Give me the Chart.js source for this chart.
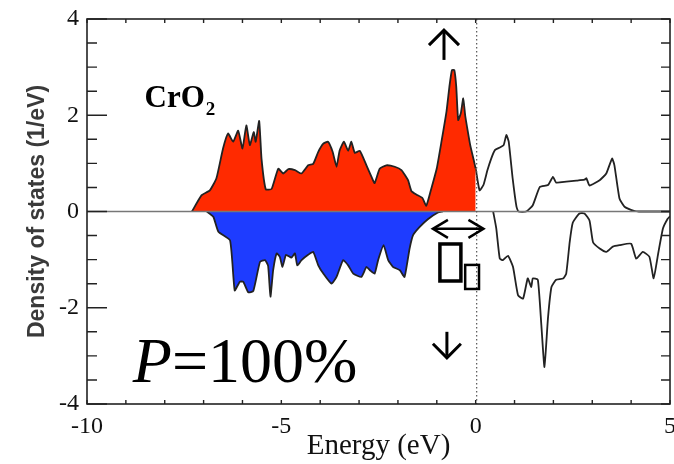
<!DOCTYPE html>
<html>
<head>
<meta charset="utf-8">
<script src="https://cdn.jsdelivr.net/npm/chart.js@4.4.1/dist/chart.umd.min.js"></script>
<style>
  html, body { margin: 0; padding: 0; background: #fff; }
  canvas { display: block; }
</style>
</head>
<body>
<canvas id="dosChart" width="674" height="464"></canvas>
<script>
// spin up, occupied part (red, up to Fermi level)
const upEnergy = [-7.3, -7.05, -6.84, -6.67, -6.5, -6.37, -6.24, -6.11, -6.0, -5.9, -5.81, -5.71, -5.66, -5.57, -5.51, -5.4, -5.25, -5.08, -4.95, -4.82, -4.65, -4.48, -4.31, -4.18, -4.05, -3.92, -3.8, -3.68, -3.58, -3.5, -3.39, -3.28, -3.2, -3.11, -2.98, -2.81, -2.68, -2.6, -2.47, -2.3, -2.08, -1.91, -1.74, -1.65, -1.52, -1.37, -1.27, -1.14, -1.0, -0.88, -0.75, -0.67, -0.61, -0.55, -0.5, -0.45, -0.38, -0.32, -0.27, -0.22, -0.14, -0.05, 0];
const upDos = [0, 0.34, 0.44, 0.69, 1.31, 1.62, 1.45, 1.68, 1.31, 1.79, 1.38, 1.65, 1.45, 1.88, 1.10, 0.46, 0.47, 0.89, 0.79, 0.88, 0.86, 0.79, 0.96, 0.99, 1.24, 1.41, 1.45, 1.24, 0.93, 1.27, 1.45, 1.26, 1.45, 1.22, 1.26, 0.96, 0.72, 0.59, 0.89, 0.96, 0.93, 0.86, 0.65, 0.42, 0.35, 0.28, 0.12, 0.48, 0.9, 1.45, 2.08, 2.63, 2.94, 2.94, 2.6, 1.9, 2.05, 2.35, 2.0, 1.75, 1.38, 1.07, 0.89];

// spin up, empty part (black line above Fermi level)
const upEmptyEnergy = [0, 0.1, 0.2, 0.3, 0.4, 0.5, 0.62, 0.72, 0.79, 0.85, 0.95, 1.05, 1.1, 1.3, 1.47, 1.65, 1.86, 1.99, 2.07, 2.33, 2.59, 2.8, 2.85, 2.93, 3.19, 3.36, 3.51, 3.57, 3.7, 3.83, 4.09, 4.2, 5];
const upEmptyDos = [0.89, 0.44, 0.55, 0.85, 1.1, 1.28, 1.33, 1.38, 1.59, 1.45, 0.7, 0.1, 0, 0, 0.13, 0.51, 0.55, 0.72, 0.6, 0.62, 0.64, 0.66, 0.69, 0.54, 0.65, 0.79, 1.1, 0.96, 0.27, 0.1, 0.01, 0, 0];

// spin down, occupied part (blue)
const downEnergy = [-6.92, -6.75, -6.62, -6.32, -6.2, -6.07, -5.98, -5.85, -5.72, -5.55, -5.42, -5.34, -5.28, -5.21, -5.12, -5.04, -4.97, -4.88, -4.74, -4.65, -4.59, -4.48, -4.31, -4.18, -4.05, -3.92, -3.71, -3.58, -3.41, -3.28, -3.15, -2.94, -2.81, -2.72, -2.6, -2.51, -2.37, -2.25, -2.13, -1.95, -1.83, -1.7, -1.61, -1.44, -1.23, -0.97, -0.85];
const downDos = [0, -0.11, -0.42, -0.6, -1.64, -1.46, -1.46, -1.68, -1.65, -1.05, -1.01, -1.13, -1.77, -1.22, -0.87, -0.94, -1.15, -0.9, -0.96, -0.87, -1.12, -1.01, -0.9, -0.84, -1.12, -1.29, -1.5, -1.36, -1.01, -1.12, -1.29, -1.36, -1.15, -1.22, -1.29, -1.01, -0.7, -1.01, -1.15, -1.22, -1.36, -0.77, -0.49, -0.32, -0.16, -0.02, 0];

// spin down, empty part (black line)
const downEmptyEnergy = [0.45, 0.53, 0.62, 0.7, 0.83, 0.96, 1.09, 1.22, 1.34, 1.43, 1.47, 1.6, 1.69, 1.77, 1.86, 1.95, 2.07, 2.25, 2.33, 2.42, 2.5, 2.67, 2.8, 2.93, 3.02, 3.19, 3.36, 3.53, 3.7, 4.0, 4.13, 4.3, 4.47, 4.58, 4.69, 4.82, 4.94, 5];
const downEmptyDos = [0, -0.35, -0.98, -1.01, -0.92, -1.15, -1.74, -1.81, -1.39, -1.57, -1.39, -1.42, -2.36, -3.23, -2.22, -1.57, -1.42, -1.39, -1.29, -0.63, -0.23, -0.04, -0.04, -0.19, -0.64, -0.77, -0.84, -0.73, -0.7, -0.67, -0.98, -0.84, -0.94, -1.39, -0.9, -0.35, -0.15, -0.1];

// tick labels
const xTicks = [-10, -5, 0, 5];
const yTicks = [-4, -2, 0, 2, 4];

const SERIF = "'Liberation Serif', 'Times New Roman', serif";

function toPoints(xs, ys) {
	return xs.map(function(x, i) { return { x: x, y: ys[i] }; });
}

// arrow with an open (chevron) head, from (x1,y1) to (x2,y2)
function arrowHead(ctx, x1, y1, x2, y2, len, half) {
	const ang = Math.atan2(y2 - y1, x2 - x1);
	const c = Math.cos(ang), s = Math.sin(ang);
	ctx.beginPath();
	ctx.moveTo(x2 - len * c + half * s, y2 - len * s - half * c);
	ctx.lineTo(x2, y2);
	ctx.lineTo(x2 - len * c - half * s, y2 - len * s + half * c);
	ctx.stroke();
}

// frame, inward ticks, Fermi line and the annotations
const framePlugin = {
	id: 'framePlugin',
	afterDatasetsDraw: function(chart) {
		const ctx = chart.ctx;
		const xs = chart.scales.x;
		const ys = chart.scales.y;
		const a = chart.chartArea;
		ctx.save();

		// zero line
		ctx.strokeStyle = '#777';
		ctx.lineWidth = 1.5;
		ctx.beginPath();
		ctx.moveTo(a.left, ys.getPixelForValue(0));
		ctx.lineTo(a.right, ys.getPixelForValue(0));
		ctx.stroke();

		// Fermi level (dotted)
		ctx.strokeStyle = '#555';
		ctx.lineWidth = 1.2;
		ctx.setLineDash([1.5, 2.5]);
		ctx.beginPath();
		ctx.moveTo(xs.getPixelForValue(0) + 1, a.top);
		ctx.lineTo(xs.getPixelForValue(0) + 1, a.bottom);
		ctx.stroke();
		ctx.setLineDash([]);

		// frame
		ctx.strokeStyle = '#222';
		ctx.lineWidth = 1.6;
		ctx.strokeRect(a.left, a.top, a.right - a.left, a.bottom - a.top);

		// y ticks (left long/short, right short)
		ctx.lineWidth = 1.4;
		for (let v = -4; v <= 4.001; v += 0.5) {
			const py = ys.getPixelForValue(v);
			const len = (Math.abs(v % 2) < 0.01) ? 20 : 10;
			ctx.beginPath();
			ctx.moveTo(a.left, py);
			ctx.lineTo(a.left + len, py);
			ctx.moveTo(a.right, py);
			ctx.lineTo(a.right - 9, py);
			ctx.stroke();
		}
		// x ticks (bottom and top)
		for (let v = -10; v <= 5; v += 1) {
			const px = xs.getPixelForValue(v);
			ctx.beginPath();
			ctx.moveTo(px, a.bottom);
			ctx.lineTo(px, a.bottom - 4);
			ctx.moveTo(px, a.top);
			ctx.lineTo(px, a.top + 4);
			ctx.stroke();
		}

		// CrO2 label
		ctx.fillStyle = '#000';
		ctx.textBaseline = 'alphabetic';
		ctx.textAlign = 'left';
		ctx.font = 'bold 31px ' + SERIF;
		const cx = xs.getPixelForValue(-8.52);
		const cy = ys.getPixelForValue(2.17);
		ctx.fillText('CrO', cx, cy);
		const w = ctx.measureText('CrO').width;
		ctx.font = 'bold 19px ' + SERIF;
		ctx.fillText('2', cx + w + 1, cy + 8);

		// P=100%
		const px0 = xs.getPixelForValue(-8.82);
		const py0 = ys.getPixelForValue(-3.54);
		ctx.font = 'italic 64px ' + SERIF;
		ctx.fillText('P', px0, py0);
		const pw = ctx.measureText('P').width;
		ctx.font = '64px ' + SERIF;
		ctx.fillText('=100%', px0 + pw, py0);

		// spin arrows
		ctx.strokeStyle = '#000';
		ctx.lineCap = 'butt';
		ctx.lineJoin = 'miter';
		ctx.lineWidth = 3;
		let ax = xs.getPixelForValue(-0.815);
		let ay1 = ys.getPixelForValue(3.15), ay2 = ys.getPixelForValue(3.77);
		ctx.beginPath(); ctx.moveTo(ax, ay1); ctx.lineTo(ax, ay2 + 2); ctx.stroke();
		arrowHead(ctx, ax, ay1, ax, ay2, 15, 15);

		ax = xs.getPixelForValue(-0.74);
		ay1 = ys.getPixelForValue(-2.50); ay2 = ys.getPixelForValue(-3.04);
		ctx.beginPath(); ctx.moveTo(ax, ay1); ctx.lineTo(ax, ay2 - 2); ctx.stroke();
		arrowHead(ctx, ax, ay1, ax, ay2, 14, 14);

		ctx.lineWidth = 2.5;
		const dx1 = xs.getPixelForValue(-1.1), dx2 = xs.getPixelForValue(0.2);
		const dy = ys.getPixelForValue(-0.36);
		ctx.beginPath(); ctx.moveTo(dx1 + 2, dy); ctx.lineTo(dx2 - 2, dy); ctx.stroke();
		arrowHead(ctx, dx2, dy, dx1, dy, 15, 9);
		arrowHead(ctx, dx1, dy, dx2, dy, 15, 9);

		// the two boxes (missing glyphs in the original)
		ctx.lineWidth = 3.5;
		let bx1 = xs.getPixelForValue(-0.92), bx2 = xs.getPixelForValue(-0.38);
		let by1 = ys.getPixelForValue(-0.675), by2 = ys.getPixelForValue(-1.444);
		ctx.strokeRect(bx1, by1, bx2 - bx1, by2 - by1);
		ctx.lineWidth = 2.5;
		bx1 = xs.getPixelForValue(-0.27); bx2 = xs.getPixelForValue(0.086);
		by1 = ys.getPixelForValue(-1.11); by2 = ys.getPixelForValue(-1.61);
		ctx.strokeRect(bx1, by1, bx2 - bx1, by2 - by1);

		ctx.restore();
	}
};

const lineStyle = {
	borderColor: '#222',
	borderWidth: 1.8,
	pointRadius: 0,
	tension: 0.15
};

new Chart(document.getElementById('dosChart'), {
	type: 'line',
	data: {
		datasets: [
			Object.assign({ data: toPoints(upEnergy, upDos), fill: 'origin', backgroundColor: '#ff2a00' }, lineStyle),
			Object.assign({ data: toPoints(upEmptyEnergy, upEmptyDos), fill: false }, lineStyle),
			Object.assign({ data: toPoints(downEnergy, downDos), fill: 'origin', backgroundColor: '#1e3cff' }, lineStyle),
			Object.assign({ data: toPoints(downEmptyEnergy, downEmptyDos), fill: false }, lineStyle)
		]
	},
	options: {
		responsive: false,
		animation: false,
		devicePixelRatio: 1,
		layout: { padding: { top: 19, right: 4, left: 0, bottom: 0 } },
		plugins: {
			legend: { display: false },
			tooltip: { enabled: false }
		},
		scales: {
			x: {
				type: 'linear',
				min: -10,
				max: 5,
				afterBuildTicks: function(scale) {
					scale.ticks = xTicks.map(function(v) { return { value: v }; });
				},
				afterFit: function(scale) {
					scale.height = 60;
					scale.paddingLeft = 0;
					scale.paddingRight = 0;
				},
				grid: { display: false, drawTicks: false },
				border: { display: false },
				ticks: {
					color: '#111',
					padding: 8,
					font: { family: SERIF, size: 24 },
					callback: function(v) { return String(v); }
				},
				title: {
					display: true,
					text: 'Energy (eV)',
					color: '#111',
					font: { family: SERIF, size: 29 },
					padding: { top: 0, bottom: 0 }
				}
			},
			y: {
				min: -4,
				max: 4,
				afterBuildTicks: function(scale) {
					scale.ticks = yTicks.map(function(v) { return { value: v }; });
				},
				afterFit: function(scale) {
					scale.width = 87;
					scale.paddingTop = 0;
					scale.paddingBottom = 0;
				},
				grid: { display: false, drawTicks: false },
				border: { display: false },
				ticks: {
					color: '#111',
					padding: 8,
					font: { family: SERIF, size: 24 },
					callback: function(v) { return String(v); }
				},
				title: {
					display: true,
					text: 'Density of states (1/eV)',
					color: '#3a3a3a',
					font: { family: "'Liberation Sans', Arial, sans-serif", size: 23, weight: 'bold' },
					padding: { top: 24, bottom: 0 }
				}
			}
		}
	},
	plugins: [framePlugin]
});
</script>
</body>
</html>
